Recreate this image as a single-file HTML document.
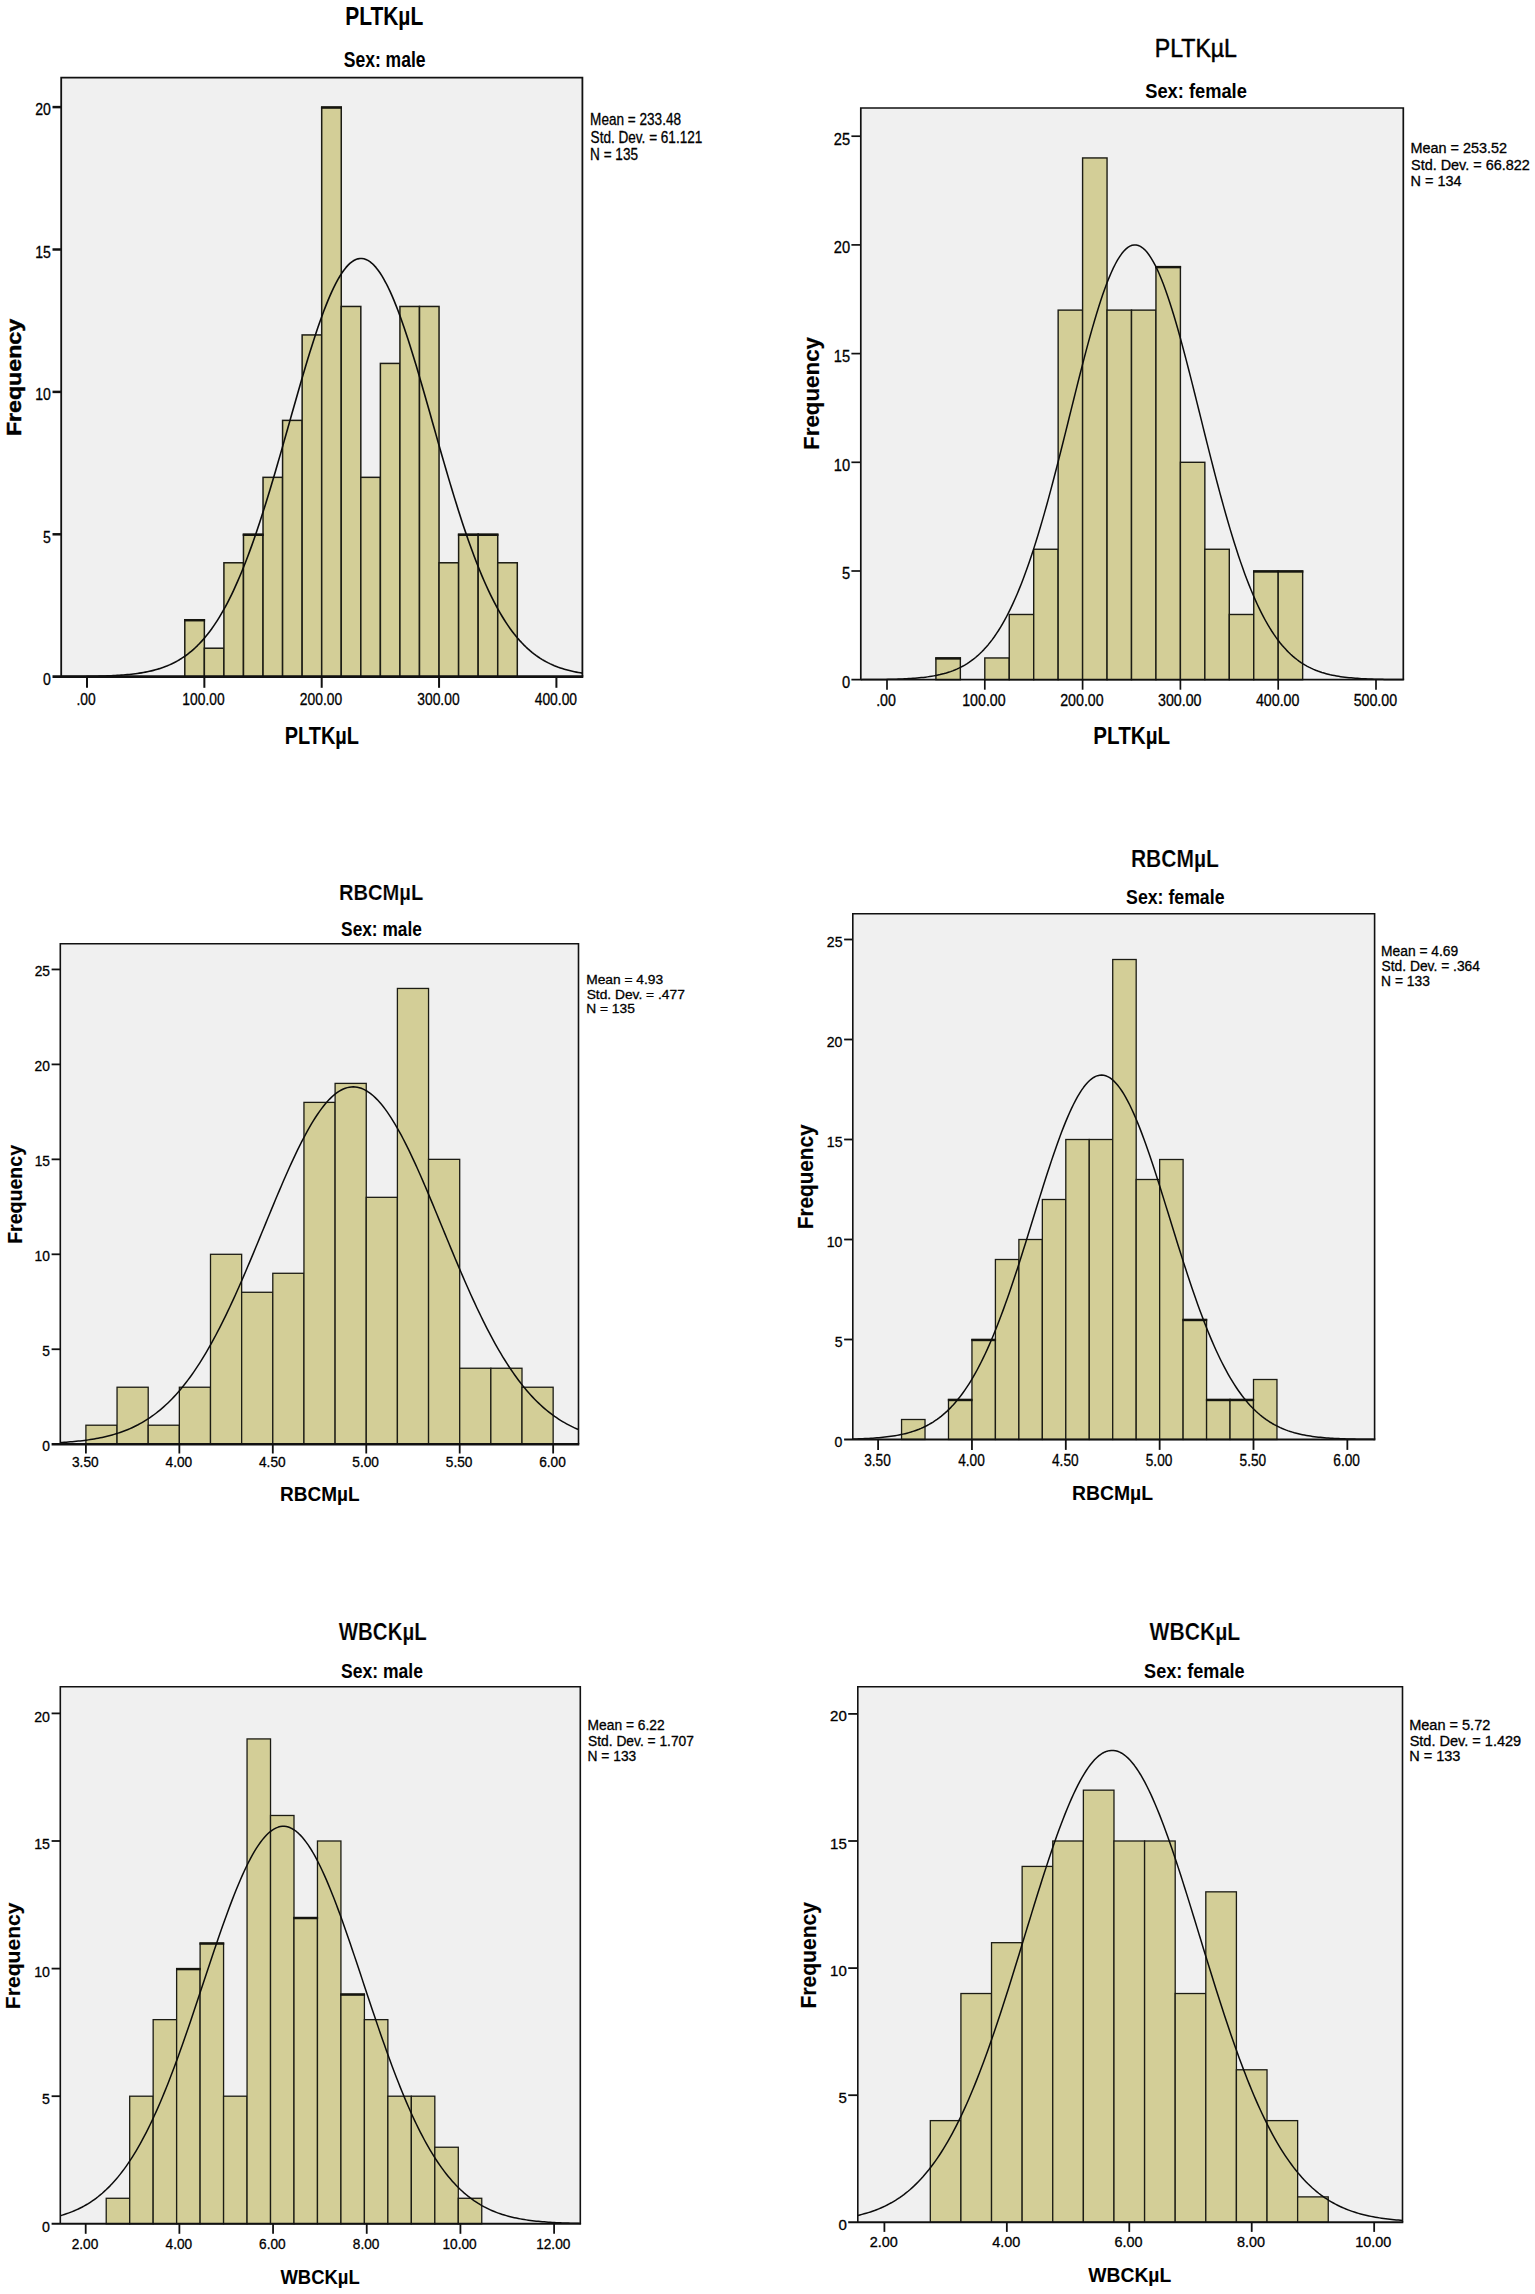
<!DOCTYPE html>
<html lang="en"><head><meta charset="utf-8"><title>Histograms of PLTKµL, RBCMµL and WBCKµL by sex</title>
<style>
html,body{margin:0;padding:0;background:#fff;}
body{width:1535px;height:2294px;overflow:hidden;font-family:"Liberation Sans",sans-serif;}
svg{display:block;}
</style></head><body>
<svg width="1535" height="2294" viewBox="0 0 1535 2294" font-family="'Liberation Sans', sans-serif" fill="#000">
<rect width="1535" height="2294" fill="#fff"/>
<g id="c1">
<rect x="61.20" y="77.60" width="521.20" height="599.10" fill="#F0F0F0"/>
<rect x="184.79" y="619.74" width="19.56" height="56.96" fill="#D3CE97" stroke="#1c1c14" stroke-width="1.5"/>
<rect x="204.35" y="648.22" width="19.56" height="28.48" fill="#D3CE97" stroke="#1c1c14" stroke-width="1.5"/>
<rect x="223.91" y="562.78" width="19.56" height="113.92" fill="#D3CE97" stroke="#1c1c14" stroke-width="1.5"/>
<rect x="243.47" y="534.30" width="19.56" height="142.40" fill="#D3CE97" stroke="#1c1c14" stroke-width="1.5"/>
<rect x="263.03" y="477.34" width="19.56" height="199.36" fill="#D3CE97" stroke="#1c1c14" stroke-width="1.5"/>
<rect x="282.58" y="420.38" width="19.56" height="256.32" fill="#D3CE97" stroke="#1c1c14" stroke-width="1.5"/>
<rect x="302.14" y="334.94" width="19.56" height="341.76" fill="#D3CE97" stroke="#1c1c14" stroke-width="1.5"/>
<rect x="321.70" y="107.10" width="19.56" height="569.60" fill="#D3CE97" stroke="#1c1c14" stroke-width="1.5"/>
<rect x="341.26" y="306.46" width="19.56" height="370.24" fill="#D3CE97" stroke="#1c1c14" stroke-width="1.5"/>
<rect x="360.82" y="477.34" width="19.56" height="199.36" fill="#D3CE97" stroke="#1c1c14" stroke-width="1.5"/>
<rect x="380.38" y="363.42" width="19.56" height="313.28" fill="#D3CE97" stroke="#1c1c14" stroke-width="1.5"/>
<rect x="399.93" y="306.46" width="19.56" height="370.24" fill="#D3CE97" stroke="#1c1c14" stroke-width="1.5"/>
<rect x="419.49" y="306.46" width="19.56" height="370.24" fill="#D3CE97" stroke="#1c1c14" stroke-width="1.5"/>
<rect x="439.05" y="562.78" width="19.56" height="113.92" fill="#D3CE97" stroke="#1c1c14" stroke-width="1.5"/>
<rect x="458.61" y="534.30" width="19.56" height="142.40" fill="#D3CE97" stroke="#1c1c14" stroke-width="1.5"/>
<rect x="478.17" y="534.30" width="19.56" height="142.40" fill="#D3CE97" stroke="#1c1c14" stroke-width="1.5"/>
<rect x="497.73" y="562.78" width="19.56" height="113.92" fill="#D3CE97" stroke="#1c1c14" stroke-width="1.5"/>
<line x1="184.04" y1="620.24" x2="205.10" y2="620.24" stroke="#15150f" stroke-width="2.4"/>
<line x1="242.72" y1="534.80" x2="263.78" y2="534.80" stroke="#15150f" stroke-width="2.4"/>
<line x1="320.95" y1="107.60" x2="342.01" y2="107.60" stroke="#15150f" stroke-width="2.4"/>
<line x1="457.86" y1="534.80" x2="478.92" y2="534.80" stroke="#15150f" stroke-width="2.4"/>
<line x1="477.42" y1="534.80" x2="498.48" y2="534.80" stroke="#15150f" stroke-width="2.4"/>
<polyline points="61.20,676.63 63.20,676.62 65.21,676.62 67.21,676.60 69.22,676.59 71.22,676.58 73.23,676.57 75.23,676.55 77.24,676.53 79.24,676.51 81.25,676.49 83.25,676.47 85.26,676.44 87.26,676.41 89.26,676.38 91.27,676.34 93.27,676.31 95.28,676.26 97.28,676.21 99.29,676.16 101.29,676.10 103.30,676.04 105.30,675.97 107.31,675.90 109.31,675.81 111.32,675.72 113.32,675.62 115.32,675.51 117.33,675.40 119.33,675.27 121.34,675.13 123.34,674.97 125.35,674.80 127.35,674.62 129.36,674.43 131.36,674.21 133.37,673.98 135.37,673.73 137.38,673.46 139.38,673.16 141.38,672.85 143.39,672.50 145.39,672.13 147.40,671.74 149.40,671.31 151.41,670.85 153.41,670.35 155.42,669.82 157.42,669.25 159.43,668.64 161.43,667.98 163.44,667.28 165.44,666.53 167.44,665.73 169.45,664.87 171.45,663.96 173.46,662.99 175.46,661.96 177.47,660.86 179.47,659.69 181.48,658.45 183.48,657.13 185.49,655.74 187.49,654.27 189.50,652.71 191.50,651.06 193.50,649.32 195.51,647.48 197.51,645.55 199.52,643.52 201.52,641.37 203.53,639.12 205.53,636.76 207.54,634.28 209.54,631.69 211.55,628.97 213.55,626.13 215.56,623.16 217.56,620.06 219.56,616.83 221.57,613.46 223.57,609.96 225.58,606.31 227.58,602.53 229.59,598.60 231.59,594.53 233.60,590.31 235.60,585.95 237.61,581.45 239.61,576.79 241.62,572.00 243.62,567.05 245.62,561.97 247.63,556.74 249.63,551.37 251.64,545.86 253.64,540.22 255.65,534.45 257.65,528.55 259.66,522.52 261.66,516.37 263.67,510.11 265.67,503.74 267.68,497.26 269.68,490.69 271.68,484.03 273.69,477.29 275.69,470.47 277.70,463.58 279.70,456.63 281.71,449.64 283.71,442.61 285.72,435.55 287.72,428.47 289.73,421.38 291.73,414.29 293.74,407.22 295.74,400.17 297.74,393.16 299.75,386.20 301.75,379.30 303.76,372.48 305.76,365.74 307.77,359.10 309.77,352.57 311.78,346.16 313.78,339.89 315.79,333.78 317.79,327.82 319.80,322.03 321.80,316.44 323.80,311.04 325.81,305.84 327.81,300.87 329.82,296.13 331.82,291.63 333.83,287.38 335.83,283.39 337.84,279.67 339.84,276.23 341.85,273.08 343.85,270.21 345.86,267.65 347.86,265.39 349.86,263.44 351.87,261.81 353.87,260.50 355.88,259.50 357.88,258.84 359.89,258.49 361.89,258.48 363.90,258.79 365.90,259.42 367.91,260.38 369.91,261.67 371.92,263.27 373.92,265.19 375.92,267.41 377.93,269.95 379.93,272.78 381.94,275.91 383.94,279.32 385.95,283.01 387.95,286.98 389.96,291.20 391.96,295.68 393.97,300.39 395.97,305.34 397.98,310.52 399.98,315.90 401.98,321.47 403.99,327.24 405.99,333.18 408.00,339.28 410.00,345.54 412.01,351.93 414.01,358.45 416.02,365.08 418.02,371.81 420.03,378.62 422.03,385.52 424.04,392.47 426.04,399.48 428.04,406.52 430.05,413.59 432.05,420.68 434.06,427.77 436.06,434.85 438.07,441.91 440.07,448.95 442.08,455.95 444.08,462.90 446.09,469.79 448.09,476.62 450.10,483.37 452.10,490.04 454.10,496.62 456.11,503.10 458.11,509.49 460.12,515.76 462.12,521.92 464.13,527.96 466.13,533.87 468.14,539.66 470.14,545.31 472.15,550.83 474.15,556.22 476.16,561.46 478.16,566.56 480.16,571.52 482.17,576.33 484.17,580.99 486.18,585.52 488.18,589.89 490.19,594.12 492.19,598.21 494.20,602.15 496.20,605.95 498.21,609.60 500.21,613.12 502.22,616.50 504.22,619.75 506.22,622.86 508.23,625.84 510.23,628.70 512.24,631.43 514.24,634.03 516.25,636.52 518.25,638.90 520.26,641.16 522.26,643.31 524.27,645.36 526.27,647.30 528.28,649.14 530.28,650.89 532.28,652.55 534.29,654.12 536.29,655.60 538.30,657.00 540.30,658.32 542.31,659.57 544.31,660.75 546.32,661.85 548.32,662.89 550.33,663.87 552.33,664.79 554.34,665.65 556.34,666.45 558.34,667.21 560.35,667.91 562.35,668.57 564.36,669.19 566.36,669.76 568.37,670.30 570.37,670.80 572.38,671.26 574.38,671.70 576.39,672.10 578.39,672.47 580.40,672.81 582.40,673.13" fill="none" stroke="#0c0c0c" stroke-width="1.6" stroke-linejoin="round"/>
<path d="M61.20,676.70 V77.60 H582.40 V676.70" fill="none" stroke="#111" stroke-width="1.8"/>
<line x1="52.50" y1="676.70" x2="583.30" y2="676.70" stroke="#111" stroke-width="2.8"/>
<text transform="translate(43.02,685.00) scale(0.8431,1)" font-size="16.69" font-weight="normal" stroke="#000" stroke-width="0.3">0</text>
<line x1="52.50" y1="534.30" x2="61.20" y2="534.30" stroke="#111" stroke-width="2.5"/>
<text transform="translate(43.05,542.60) scale(0.8431,1)" font-size="16.69" font-weight="normal" stroke="#000" stroke-width="0.3">5</text>
<line x1="52.50" y1="391.90" x2="61.20" y2="391.90" stroke="#111" stroke-width="2.5"/>
<text transform="translate(35.21,400.20) scale(0.8431,1)" font-size="16.69" font-weight="normal" stroke="#000" stroke-width="0.3">10</text>
<line x1="52.50" y1="249.50" x2="61.20" y2="249.50" stroke="#111" stroke-width="2.5"/>
<text transform="translate(35.24,257.80) scale(0.8431,1)" font-size="16.69" font-weight="normal" stroke="#000" stroke-width="0.3">15</text>
<line x1="52.50" y1="107.10" x2="61.20" y2="107.10" stroke="#111" stroke-width="2.5"/>
<text transform="translate(35.21,115.40) scale(0.8431,1)" font-size="16.69" font-weight="normal" stroke="#000" stroke-width="0.3">20</text>
<line x1="87.00" y1="676.70" x2="87.00" y2="687.80" stroke="#111" stroke-width="2.0"/>
<text transform="translate(76.41,704.80) scale(0.8259,1)" font-size="16.77" font-weight="normal" stroke="#000" stroke-width="0.3">.00</text>
<line x1="204.35" y1="676.70" x2="204.35" y2="687.80" stroke="#111" stroke-width="2.0"/>
<text transform="translate(182.31,704.80) scale(0.8259,1)" font-size="16.77" font-weight="normal" stroke="#000" stroke-width="0.3">100.00</text>
<line x1="321.70" y1="676.70" x2="321.70" y2="687.80" stroke="#111" stroke-width="2.0"/>
<text transform="translate(299.83,704.80) scale(0.8259,1)" font-size="16.77" font-weight="normal" stroke="#000" stroke-width="0.3">200.00</text>
<line x1="439.05" y1="676.70" x2="439.05" y2="687.80" stroke="#111" stroke-width="2.0"/>
<text transform="translate(417.27,704.80) scale(0.8259,1)" font-size="16.77" font-weight="normal" stroke="#000" stroke-width="0.3">300.00</text>
<line x1="556.40" y1="676.70" x2="556.40" y2="687.80" stroke="#111" stroke-width="2.0"/>
<text transform="translate(534.72,704.80) scale(0.8259,1)" font-size="16.77" font-weight="normal" stroke="#000" stroke-width="0.3">400.00</text>
<text transform="translate(345.14,25.20) scale(0.8018,1)" font-size="26.18" font-weight="bold">PLTKµL</text>
<text transform="translate(343.72,66.80) scale(0.8076,1)" font-size="21.71" font-weight="bold">Sex: male</text>
<text transform="translate(284.70,743.90) scale(0.8211,1)" font-size="24.29" font-weight="bold">PLTKµL</text>
<text transform="translate(21.30,436.11) rotate(-90) scale(1.1311,1)" font-size="20.51" font-weight="bold" stroke="#000" stroke-width="0.45">Frequency</text>
<text transform="translate(590.11,125.20) scale(0.8623,1)" font-size="15.75" font-weight="normal" stroke="#000" stroke-width="0.3">Mean = 233.48</text>
<text transform="translate(590.59,142.70) scale(0.8623,1)" font-size="15.75" font-weight="normal" stroke="#000" stroke-width="0.3">Std. Dev. = 61.121</text>
<text transform="translate(590.11,160.20) scale(0.8623,1)" font-size="15.75" font-weight="normal" stroke="#000" stroke-width="0.3">N = 135</text>
</g>
<g id="c2">
<rect x="860.80" y="108.00" width="542.50" height="571.70" fill="#F0F0F0"/>
<rect x="935.90" y="657.96" width="24.45" height="21.74" fill="#D3CE97" stroke="#1c1c14" stroke-width="1.4"/>
<rect x="984.80" y="657.96" width="24.45" height="21.74" fill="#D3CE97" stroke="#1c1c14" stroke-width="1.4"/>
<rect x="1009.25" y="614.48" width="24.45" height="65.22" fill="#D3CE97" stroke="#1c1c14" stroke-width="1.4"/>
<rect x="1033.70" y="549.26" width="24.45" height="130.44" fill="#D3CE97" stroke="#1c1c14" stroke-width="1.4"/>
<rect x="1058.15" y="310.12" width="24.45" height="369.58" fill="#D3CE97" stroke="#1c1c14" stroke-width="1.4"/>
<rect x="1082.60" y="157.94" width="24.45" height="521.76" fill="#D3CE97" stroke="#1c1c14" stroke-width="1.4"/>
<rect x="1107.05" y="310.12" width="24.45" height="369.58" fill="#D3CE97" stroke="#1c1c14" stroke-width="1.4"/>
<rect x="1131.50" y="310.12" width="24.45" height="369.58" fill="#D3CE97" stroke="#1c1c14" stroke-width="1.4"/>
<rect x="1155.95" y="266.64" width="24.45" height="413.06" fill="#D3CE97" stroke="#1c1c14" stroke-width="1.4"/>
<rect x="1180.40" y="462.30" width="24.45" height="217.40" fill="#D3CE97" stroke="#1c1c14" stroke-width="1.4"/>
<rect x="1204.85" y="549.26" width="24.45" height="130.44" fill="#D3CE97" stroke="#1c1c14" stroke-width="1.4"/>
<rect x="1229.30" y="614.48" width="24.45" height="65.22" fill="#D3CE97" stroke="#1c1c14" stroke-width="1.4"/>
<rect x="1253.75" y="571.00" width="24.45" height="108.70" fill="#D3CE97" stroke="#1c1c14" stroke-width="1.4"/>
<rect x="1278.20" y="571.00" width="24.45" height="108.70" fill="#D3CE97" stroke="#1c1c14" stroke-width="1.4"/>
<line x1="935.20" y1="658.46" x2="961.05" y2="658.46" stroke="#15150f" stroke-width="2.4"/>
<line x1="1155.25" y1="267.14" x2="1181.10" y2="267.14" stroke="#15150f" stroke-width="2.4"/>
<line x1="1253.05" y1="571.50" x2="1278.90" y2="571.50" stroke="#15150f" stroke-width="2.4"/>
<line x1="1277.50" y1="571.50" x2="1303.35" y2="571.50" stroke="#15150f" stroke-width="2.4"/>
<polyline points="860.80,679.63 862.89,679.62 864.97,679.61 867.06,679.60 869.15,679.59 871.23,679.57 873.32,679.56 875.41,679.54 877.49,679.51 879.58,679.49 881.67,679.46 883.75,679.43 885.84,679.40 887.92,679.36 890.01,679.31 892.10,679.26 894.18,679.21 896.27,679.15 898.36,679.08 900.44,679.00 902.53,678.92 904.62,678.83 906.70,678.72 908.79,678.61 910.88,678.48 912.96,678.34 915.05,678.19 917.14,678.02 919.22,677.83 921.31,677.62 923.40,677.39 925.48,677.14 927.57,676.87 929.66,676.57 931.74,676.24 933.83,675.88 935.92,675.49 938.00,675.06 940.09,674.60 942.17,674.09 944.26,673.54 946.35,672.94 948.43,672.29 950.52,671.59 952.61,670.83 954.69,670.01 956.78,669.12 958.87,668.17 960.95,667.14 963.04,666.03 965.13,664.84 967.21,663.56 969.30,662.19 971.39,660.72 973.47,659.16 975.56,657.48 977.65,655.69 979.73,653.79 981.82,651.76 983.91,649.61 985.99,647.32 988.08,644.89 990.17,642.32 992.25,639.61 994.34,636.73 996.42,633.70 998.51,630.51 1000.60,627.14 1002.68,623.60 1004.77,619.89 1006.86,616.00 1008.94,611.92 1011.03,607.65 1013.12,603.19 1015.20,598.54 1017.29,593.70 1019.38,588.66 1021.46,583.42 1023.55,577.98 1025.64,572.34 1027.72,566.51 1029.81,560.49 1031.90,554.27 1033.98,547.86 1036.07,541.26 1038.16,534.49 1040.24,527.53 1042.33,520.41 1044.42,513.12 1046.50,505.68 1048.59,498.09 1050.67,490.36 1052.76,482.50 1054.85,474.52 1056.93,466.45 1059.02,458.27 1061.11,450.02 1063.19,441.71 1065.28,433.34 1067.37,424.95 1069.45,416.53 1071.54,408.11 1073.63,399.71 1075.71,391.34 1077.80,383.03 1079.89,374.78 1081.97,366.63 1084.06,358.59 1086.15,350.67 1088.23,342.91 1090.32,335.31 1092.41,327.90 1094.49,320.69 1096.58,313.71 1098.67,306.98 1100.75,300.51 1102.84,294.32 1104.92,288.43 1107.01,282.85 1109.10,277.60 1111.18,272.70 1113.27,268.16 1115.36,263.99 1117.44,260.20 1119.53,256.82 1121.62,253.84 1123.70,251.28 1125.79,249.14 1127.88,247.43 1129.96,246.15 1132.05,245.32 1134.14,244.93 1136.22,244.98 1138.31,245.47 1140.40,246.41 1142.48,247.78 1144.57,249.59 1146.66,251.82 1148.74,254.48 1150.83,257.55 1152.92,261.03 1155.00,264.90 1157.09,269.16 1159.17,273.78 1161.26,278.76 1163.35,284.09 1165.43,289.74 1167.52,295.70 1169.61,301.96 1171.69,308.49 1173.78,315.28 1175.87,322.31 1177.95,329.57 1180.04,337.02 1182.13,344.66 1184.21,352.46 1186.30,360.41 1188.39,368.48 1190.47,376.65 1192.56,384.91 1194.65,393.24 1196.73,401.62 1198.82,410.02 1200.91,418.44 1202.99,426.86 1205.08,435.25 1207.17,443.60 1209.25,451.91 1211.34,460.14 1213.42,468.29 1215.51,476.35 1217.60,484.30 1219.68,492.13 1221.77,499.82 1223.86,507.38 1225.94,514.79 1228.03,522.04 1230.12,529.13 1232.20,536.04 1234.29,542.78 1236.38,549.33 1238.46,555.70 1240.55,561.87 1242.64,567.86 1244.72,573.64 1246.81,579.23 1248.90,584.62 1250.98,589.82 1253.07,594.82 1255.16,599.62 1257.24,604.22 1259.33,608.64 1261.42,612.86 1263.50,616.90 1265.59,620.75 1267.67,624.42 1269.76,627.92 1271.85,631.25 1273.93,634.40 1276.02,637.40 1278.11,640.24 1280.19,642.92 1282.28,645.46 1284.37,647.85 1286.45,650.11 1288.54,652.24 1290.63,654.23 1292.71,656.11 1294.80,657.87 1296.89,659.52 1298.97,661.07 1301.06,662.51 1303.15,663.86 1305.23,665.12 1307.32,666.29 1309.41,667.38 1311.49,668.39 1313.58,669.33 1315.67,670.20 1317.75,671.01 1319.84,671.75 1321.92,672.44 1324.01,673.08 1326.10,673.67 1328.18,674.21 1330.27,674.71 1332.36,675.16 1334.44,675.58 1336.53,675.97 1338.62,676.32 1340.70,676.64 1342.79,676.93 1344.88,677.20 1346.96,677.45 1349.05,677.67 1351.14,677.87 1353.22,678.06 1355.31,678.22 1357.40,678.37 1359.48,678.51 1361.57,678.64 1363.66,678.75 1365.74,678.85 1367.83,678.94 1369.92,679.02 1372.00,679.10 1374.09,679.16 1376.17,679.22 1378.26,679.28 1380.35,679.32 1382.43,679.37 1384.52,679.40 1386.61,679.44 1388.69,679.47 1390.78,679.50 1392.87,679.52 1394.95,679.54 1397.04,679.56 1399.13,679.58 1401.21,679.59 1403.30,679.61" fill="none" stroke="#0c0c0c" stroke-width="1.5" stroke-linejoin="round"/>
<path d="M860.80,679.70 V108.00 H1403.30 V679.70" fill="none" stroke="#111" stroke-width="1.7"/>
<line x1="851.40" y1="679.70" x2="1404.15" y2="679.70" stroke="#111" stroke-width="1.8"/>
<text transform="translate(841.91,688.10) scale(0.9253,1)" font-size="15.85" font-weight="normal" stroke="#000" stroke-width="0.3">0</text>
<line x1="851.40" y1="571.00" x2="860.80" y2="571.00" stroke="#111" stroke-width="1.7"/>
<text transform="translate(841.94,579.40) scale(0.9253,1)" font-size="15.85" font-weight="normal" stroke="#000" stroke-width="0.3">5</text>
<line x1="851.40" y1="462.30" x2="860.80" y2="462.30" stroke="#111" stroke-width="1.7"/>
<text transform="translate(833.77,470.70) scale(0.9253,1)" font-size="15.85" font-weight="normal" stroke="#000" stroke-width="0.3">10</text>
<line x1="851.40" y1="353.60" x2="860.80" y2="353.60" stroke="#111" stroke-width="1.7"/>
<text transform="translate(833.80,362.00) scale(0.9253,1)" font-size="15.85" font-weight="normal" stroke="#000" stroke-width="0.3">15</text>
<line x1="851.40" y1="244.90" x2="860.80" y2="244.90" stroke="#111" stroke-width="1.7"/>
<text transform="translate(833.77,253.30) scale(0.9253,1)" font-size="15.85" font-weight="normal" stroke="#000" stroke-width="0.3">20</text>
<line x1="851.40" y1="136.20" x2="860.80" y2="136.20" stroke="#111" stroke-width="1.7"/>
<text transform="translate(833.80,144.60) scale(0.9253,1)" font-size="15.85" font-weight="normal" stroke="#000" stroke-width="0.3">25</text>
<line x1="887.00" y1="679.70" x2="887.00" y2="689.70" stroke="#111" stroke-width="1.7"/>
<text transform="translate(876.15,705.90) scale(0.9014,1)" font-size="15.77" font-weight="normal" stroke="#000" stroke-width="0.3">.00</text>
<line x1="984.80" y1="679.70" x2="984.80" y2="689.70" stroke="#111" stroke-width="1.7"/>
<text transform="translate(962.20,705.90) scale(0.9014,1)" font-size="15.77" font-weight="normal" stroke="#000" stroke-width="0.3">100.00</text>
<line x1="1082.60" y1="679.70" x2="1082.60" y2="689.70" stroke="#111" stroke-width="1.7"/>
<text transform="translate(1060.18,705.90) scale(0.9014,1)" font-size="15.77" font-weight="normal" stroke="#000" stroke-width="0.3">200.00</text>
<line x1="1180.40" y1="679.70" x2="1180.40" y2="689.70" stroke="#111" stroke-width="1.7"/>
<text transform="translate(1158.07,705.90) scale(0.9014,1)" font-size="15.77" font-weight="normal" stroke="#000" stroke-width="0.3">300.00</text>
<line x1="1278.20" y1="679.70" x2="1278.20" y2="689.70" stroke="#111" stroke-width="1.7"/>
<text transform="translate(1255.97,705.90) scale(0.9014,1)" font-size="15.77" font-weight="normal" stroke="#000" stroke-width="0.3">400.00</text>
<line x1="1376.00" y1="679.70" x2="1376.00" y2="689.70" stroke="#111" stroke-width="1.7"/>
<text transform="translate(1353.65,705.90) scale(0.9014,1)" font-size="15.77" font-weight="normal" stroke="#000" stroke-width="0.3">500.00</text>
<text transform="translate(1154.75,57.00) scale(0.9082,1)" font-size="25.45" font-weight="normal" stroke="#000" stroke-width="0.5">PLTKµL</text>
<text transform="translate(1145.20,97.70) scale(0.9150,1)" font-size="20.00" font-weight="bold">Sex: female</text>
<text transform="translate(1093.36,744.30) scale(0.8922,1)" font-size="23.13" font-weight="bold">PLTKµL</text>
<text transform="translate(819.00,449.95) rotate(-90) scale(0.9916,1)" font-size="22.55" font-weight="bold" stroke="#000" stroke-width="0.15">Frequency</text>
<text transform="translate(1410.55,153.00) scale(1.0139,1)" font-size="14.23" font-weight="normal" stroke="#000" stroke-width="0.3">Mean = 253.52</text>
<text transform="translate(1411.05,169.90) scale(1.0139,1)" font-size="14.23" font-weight="normal" stroke="#000" stroke-width="0.3">Std. Dev. = 66.822</text>
<text transform="translate(1410.55,186.20) scale(1.0139,1)" font-size="14.23" font-weight="normal" stroke="#000" stroke-width="0.3">N = 134</text>
</g>
<g id="c3">
<rect x="60.30" y="943.80" width="518.20" height="500.40" fill="#F0F0F0"/>
<rect x="85.90" y="1425.21" width="31.15" height="18.99" fill="#D3CE97" stroke="#1c1c14" stroke-width="1.3"/>
<rect x="117.05" y="1387.23" width="31.15" height="56.97" fill="#D3CE97" stroke="#1c1c14" stroke-width="1.3"/>
<rect x="148.20" y="1425.21" width="31.15" height="18.99" fill="#D3CE97" stroke="#1c1c14" stroke-width="1.3"/>
<rect x="179.35" y="1387.23" width="31.15" height="56.97" fill="#D3CE97" stroke="#1c1c14" stroke-width="1.3"/>
<rect x="210.50" y="1254.30" width="31.15" height="189.90" fill="#D3CE97" stroke="#1c1c14" stroke-width="1.3"/>
<rect x="241.65" y="1292.28" width="31.15" height="151.92" fill="#D3CE97" stroke="#1c1c14" stroke-width="1.3"/>
<rect x="272.80" y="1273.29" width="31.15" height="170.91" fill="#D3CE97" stroke="#1c1c14" stroke-width="1.3"/>
<rect x="303.95" y="1102.38" width="31.15" height="341.82" fill="#D3CE97" stroke="#1c1c14" stroke-width="1.3"/>
<rect x="335.10" y="1083.39" width="31.15" height="360.81" fill="#D3CE97" stroke="#1c1c14" stroke-width="1.3"/>
<rect x="366.25" y="1197.33" width="31.15" height="246.87" fill="#D3CE97" stroke="#1c1c14" stroke-width="1.3"/>
<rect x="397.40" y="988.44" width="31.15" height="455.76" fill="#D3CE97" stroke="#1c1c14" stroke-width="1.3"/>
<rect x="428.55" y="1159.35" width="31.15" height="284.85" fill="#D3CE97" stroke="#1c1c14" stroke-width="1.3"/>
<rect x="459.70" y="1368.24" width="31.15" height="75.96" fill="#D3CE97" stroke="#1c1c14" stroke-width="1.3"/>
<rect x="490.85" y="1368.24" width="31.15" height="75.96" fill="#D3CE97" stroke="#1c1c14" stroke-width="1.3"/>
<rect x="522.00" y="1387.23" width="31.15" height="56.97" fill="#D3CE97" stroke="#1c1c14" stroke-width="1.3"/>
<polyline points="60.30,1442.58 62.29,1442.46 64.29,1442.32 66.28,1442.18 68.27,1442.03 70.27,1441.87 72.26,1441.70 74.25,1441.52 76.24,1441.33 78.24,1441.12 80.23,1440.91 82.22,1440.67 84.22,1440.43 86.21,1440.16 88.20,1439.88 90.20,1439.59 92.19,1439.28 94.18,1438.94 96.18,1438.59 98.17,1438.22 100.16,1437.83 102.15,1437.41 104.15,1436.97 106.14,1436.51 108.13,1436.02 110.13,1435.50 112.12,1434.96 114.11,1434.39 116.11,1433.78 118.10,1433.15 120.09,1432.48 122.09,1431.78 124.08,1431.04 126.07,1430.27 128.06,1429.45 130.06,1428.60 132.05,1427.71 134.04,1426.77 136.04,1425.79 138.03,1424.77 140.02,1423.69 142.02,1422.57 144.01,1421.40 146.00,1420.18 148.00,1418.91 149.99,1417.58 151.98,1416.19 153.97,1414.75 155.97,1413.25 157.96,1411.69 159.95,1410.07 161.95,1408.38 163.94,1406.63 165.93,1404.82 167.93,1402.93 169.92,1400.98 171.91,1398.96 173.91,1396.87 175.90,1394.71 177.89,1392.47 179.88,1390.16 181.88,1387.77 183.87,1385.31 185.86,1382.77 187.86,1380.16 189.85,1377.46 191.84,1374.69 193.84,1371.84 195.83,1368.91 197.82,1365.90 199.82,1362.81 201.81,1359.64 203.80,1356.39 205.79,1353.06 207.79,1349.65 209.78,1346.16 211.77,1342.60 213.77,1338.96 215.76,1335.24 217.75,1331.45 219.75,1327.59 221.74,1323.65 223.73,1319.64 225.73,1315.56 227.72,1311.42 229.71,1307.21 231.70,1302.94 233.70,1298.60 235.69,1294.21 237.68,1289.77 239.68,1285.27 241.67,1280.72 243.66,1276.13 245.66,1271.49 247.65,1266.82 249.64,1262.11 251.64,1257.37 253.63,1252.60 255.62,1247.80 257.61,1242.99 259.61,1238.16 261.60,1233.32 263.59,1228.48 265.59,1223.63 267.58,1218.79 269.57,1213.96 271.57,1209.14 273.56,1204.34 275.55,1199.57 277.55,1194.82 279.54,1190.11 281.53,1185.44 283.52,1180.82 285.52,1176.24 287.51,1171.73 289.50,1167.27 291.50,1162.89 293.49,1158.57 295.48,1154.34 297.48,1150.19 299.47,1146.13 301.46,1142.16 303.46,1138.30 305.45,1134.54 307.44,1130.89 309.43,1127.35 311.43,1123.94 313.42,1120.65 315.41,1117.49 317.41,1114.47 319.40,1111.58 321.39,1108.84 323.39,1106.24 325.38,1103.79 327.37,1101.49 329.37,1099.36 331.36,1097.38 333.35,1095.56 335.34,1093.92 337.34,1092.43 339.33,1091.12 341.32,1089.98 343.32,1089.02 345.31,1088.23 347.30,1087.62 349.30,1087.18 351.29,1086.92 353.28,1086.85 355.28,1086.95 357.27,1087.22 359.26,1087.68 361.25,1088.31 363.25,1089.12 365.24,1090.11 367.23,1091.27 369.23,1092.60 371.22,1094.10 373.21,1095.77 375.21,1097.60 377.20,1099.60 379.19,1101.75 381.19,1104.07 383.18,1106.53 385.17,1109.15 387.16,1111.91 389.16,1114.81 391.15,1117.85 393.14,1121.03 395.14,1124.33 397.13,1127.76 399.12,1131.31 401.12,1134.97 403.11,1138.74 405.10,1142.62 407.10,1146.59 409.09,1150.66 411.08,1154.82 413.07,1159.07 415.07,1163.39 417.06,1167.78 419.05,1172.25 421.05,1176.77 423.04,1181.35 425.03,1185.98 427.03,1190.65 429.02,1195.37 431.01,1200.12 433.01,1204.90 435.00,1209.70 436.99,1214.52 438.98,1219.35 440.98,1224.19 442.97,1229.04 444.96,1233.88 446.96,1238.72 448.95,1243.55 450.94,1248.36 452.94,1253.15 454.93,1257.92 456.92,1262.66 458.92,1267.36 460.91,1272.03 462.90,1276.66 464.89,1281.25 466.89,1285.79 468.88,1290.29 470.87,1294.73 472.87,1299.11 474.86,1303.43 476.85,1307.70 478.85,1311.90 480.84,1316.04 482.83,1320.11 484.83,1324.11 486.82,1328.04 488.81,1331.89 490.80,1335.68 492.80,1339.38 494.79,1343.02 496.78,1346.57 498.78,1350.05 500.77,1353.45 502.76,1356.77 504.76,1360.01 506.75,1363.17 508.74,1366.25 510.74,1369.25 512.73,1372.17 514.72,1375.01 516.71,1377.78 518.71,1380.46 520.70,1383.07 522.69,1385.60 524.69,1388.05 526.68,1390.43 528.67,1392.73 530.67,1394.96 532.66,1397.12 534.65,1399.20 536.65,1401.21 538.64,1403.15 540.63,1405.03 542.62,1406.84 544.62,1408.58 546.61,1410.26 548.60,1411.87 550.60,1413.43 552.59,1414.92 554.58,1416.36 556.58,1417.73 558.57,1419.06 560.56,1420.33 562.56,1421.54 564.55,1422.71 566.54,1423.82 568.53,1424.89 570.53,1425.91 572.52,1426.88 574.51,1427.81 576.51,1428.70 578.50,1429.55" fill="none" stroke="#0c0c0c" stroke-width="1.5" stroke-linejoin="round"/>
<path d="M60.30,1444.20 V943.80 H578.50 V1444.20" fill="none" stroke="#111" stroke-width="1.6"/>
<line x1="51.60" y1="1444.20" x2="579.30" y2="1444.20" stroke="#111" stroke-width="2.4"/>
<text transform="translate(42.26,1451.15) scale(0.9627,1)" font-size="14.32" font-weight="normal" stroke="#000" stroke-width="0.3">0</text>
<line x1="51.60" y1="1349.25" x2="60.30" y2="1349.25" stroke="#111" stroke-width="1.8"/>
<text transform="translate(42.30,1356.20) scale(0.9627,1)" font-size="14.32" font-weight="normal" stroke="#000" stroke-width="0.3">5</text>
<line x1="51.60" y1="1254.30" x2="60.30" y2="1254.30" stroke="#111" stroke-width="1.8"/>
<text transform="translate(34.61,1261.25) scale(0.9627,1)" font-size="14.32" font-weight="normal" stroke="#000" stroke-width="0.3">10</text>
<line x1="51.60" y1="1159.35" x2="60.30" y2="1159.35" stroke="#111" stroke-width="1.8"/>
<text transform="translate(34.64,1166.30) scale(0.9627,1)" font-size="14.32" font-weight="normal" stroke="#000" stroke-width="0.3">15</text>
<line x1="51.60" y1="1064.40" x2="60.30" y2="1064.40" stroke="#111" stroke-width="1.8"/>
<text transform="translate(34.61,1071.35) scale(0.9627,1)" font-size="14.32" font-weight="normal" stroke="#000" stroke-width="0.3">20</text>
<line x1="51.60" y1="969.45" x2="60.30" y2="969.45" stroke="#111" stroke-width="1.8"/>
<text transform="translate(34.64,976.40) scale(0.9627,1)" font-size="14.32" font-weight="normal" stroke="#000" stroke-width="0.3">25</text>
<line x1="85.90" y1="1444.20" x2="85.90" y2="1453.50" stroke="#111" stroke-width="1.8"/>
<text transform="translate(71.99,1467.00) scale(0.9744,1)" font-size="14.05" font-weight="normal" stroke="#000" stroke-width="0.3">3.50</text>
<line x1="179.35" y1="1444.20" x2="179.35" y2="1453.50" stroke="#111" stroke-width="1.8"/>
<text transform="translate(165.54,1467.00) scale(0.9744,1)" font-size="14.05" font-weight="normal" stroke="#000" stroke-width="0.3">4.00</text>
<line x1="272.80" y1="1444.20" x2="272.80" y2="1453.50" stroke="#111" stroke-width="1.8"/>
<text transform="translate(258.99,1467.00) scale(0.9744,1)" font-size="14.05" font-weight="normal" stroke="#000" stroke-width="0.3">4.50</text>
<line x1="366.25" y1="1444.20" x2="366.25" y2="1453.50" stroke="#111" stroke-width="1.8"/>
<text transform="translate(352.32,1467.00) scale(0.9744,1)" font-size="14.05" font-weight="normal" stroke="#000" stroke-width="0.3">5.00</text>
<line x1="459.70" y1="1444.20" x2="459.70" y2="1453.50" stroke="#111" stroke-width="1.8"/>
<text transform="translate(445.77,1467.00) scale(0.9744,1)" font-size="14.05" font-weight="normal" stroke="#000" stroke-width="0.3">5.50</text>
<line x1="553.15" y1="1444.20" x2="553.15" y2="1453.50" stroke="#111" stroke-width="1.8"/>
<text transform="translate(539.15,1467.00) scale(0.9744,1)" font-size="14.05" font-weight="normal" stroke="#000" stroke-width="0.3">6.00</text>
<text transform="translate(338.89,900.10) scale(0.9118,1)" font-size="22.11" font-weight="bold" stroke="#fff" stroke-width="0.18">RBCMµL</text>
<text transform="translate(341.12,936.20) scale(0.8838,1)" font-size="19.57" font-weight="bold">Sex: male</text>
<text transform="translate(280.06,1500.70) scale(0.9552,1)" font-size="19.93" font-weight="bold">RBCMµL</text>
<text transform="translate(21.60,1243.87) rotate(-90) scale(0.9542,1)" font-size="20.51" font-weight="bold" stroke="#000" stroke-width="0.15">Frequency</text>
<text transform="translate(586.20,984.10) scale(1.0241,1)" font-size="13.46" font-weight="normal" stroke="#000" stroke-width="0.3">Mean = 4.93</text>
<text transform="translate(586.68,998.70) scale(1.0241,1)" font-size="13.46" font-weight="normal" stroke="#000" stroke-width="0.3">Std. Dev. = .477</text>
<text transform="translate(586.20,1012.70) scale(1.0241,1)" font-size="13.46" font-weight="normal" stroke="#000" stroke-width="0.3">N = 135</text>
</g>
<g id="c4">
<rect x="852.80" y="913.70" width="521.80" height="525.80" fill="#F0F0F0"/>
<rect x="901.56" y="1419.50" width="23.46" height="20.00" fill="#D3CE97" stroke="#1c1c14" stroke-width="1.3"/>
<rect x="948.49" y="1399.50" width="23.46" height="40.00" fill="#D3CE97" stroke="#1c1c14" stroke-width="1.3"/>
<rect x="971.95" y="1339.50" width="23.46" height="100.00" fill="#D3CE97" stroke="#1c1c14" stroke-width="1.3"/>
<rect x="995.41" y="1259.50" width="23.46" height="180.00" fill="#D3CE97" stroke="#1c1c14" stroke-width="1.3"/>
<rect x="1018.88" y="1239.50" width="23.46" height="200.00" fill="#D3CE97" stroke="#1c1c14" stroke-width="1.3"/>
<rect x="1042.34" y="1199.50" width="23.46" height="240.00" fill="#D3CE97" stroke="#1c1c14" stroke-width="1.3"/>
<rect x="1065.80" y="1139.50" width="23.46" height="300.00" fill="#D3CE97" stroke="#1c1c14" stroke-width="1.3"/>
<rect x="1089.26" y="1139.50" width="23.46" height="300.00" fill="#D3CE97" stroke="#1c1c14" stroke-width="1.3"/>
<rect x="1112.72" y="959.50" width="23.46" height="480.00" fill="#D3CE97" stroke="#1c1c14" stroke-width="1.3"/>
<rect x="1136.19" y="1179.50" width="23.46" height="260.00" fill="#D3CE97" stroke="#1c1c14" stroke-width="1.3"/>
<rect x="1159.65" y="1159.50" width="23.46" height="280.00" fill="#D3CE97" stroke="#1c1c14" stroke-width="1.3"/>
<rect x="1183.11" y="1319.50" width="23.46" height="120.00" fill="#D3CE97" stroke="#1c1c14" stroke-width="1.3"/>
<rect x="1206.58" y="1399.50" width="23.46" height="40.00" fill="#D3CE97" stroke="#1c1c14" stroke-width="1.3"/>
<rect x="1230.04" y="1399.50" width="23.46" height="40.00" fill="#D3CE97" stroke="#1c1c14" stroke-width="1.3"/>
<rect x="1253.50" y="1379.50" width="23.46" height="60.00" fill="#D3CE97" stroke="#1c1c14" stroke-width="1.3"/>
<line x1="947.84" y1="1400.00" x2="972.60" y2="1400.00" stroke="#15150f" stroke-width="2.4"/>
<line x1="971.30" y1="1340.00" x2="996.06" y2="1340.00" stroke="#15150f" stroke-width="2.4"/>
<line x1="1182.46" y1="1320.00" x2="1207.23" y2="1320.00" stroke="#15150f" stroke-width="2.4"/>
<line x1="1205.92" y1="1400.00" x2="1230.69" y2="1400.00" stroke="#15150f" stroke-width="2.4"/>
<line x1="1229.39" y1="1400.00" x2="1254.15" y2="1400.00" stroke="#15150f" stroke-width="2.4"/>
<polyline points="852.80,1439.02 854.81,1438.96 856.81,1438.90 858.82,1438.83 860.83,1438.76 862.83,1438.68 864.84,1438.59 866.85,1438.50 868.86,1438.39 870.86,1438.28 872.87,1438.15 874.88,1438.01 876.88,1437.86 878.89,1437.69 880.90,1437.51 882.90,1437.31 884.91,1437.10 886.92,1436.87 888.92,1436.61 890.93,1436.34 892.94,1436.04 894.95,1435.72 896.95,1435.37 898.96,1434.99 900.97,1434.58 902.97,1434.14 904.98,1433.67 906.99,1433.16 908.99,1432.61 911.00,1432.02 913.01,1431.38 915.01,1430.70 917.02,1429.97 919.03,1429.19 921.04,1428.35 923.04,1427.46 925.05,1426.50 927.06,1425.48 929.06,1424.40 931.07,1423.24 933.08,1422.02 935.08,1420.71 937.09,1419.33 939.10,1417.86 941.10,1416.31 943.11,1414.66 945.12,1412.92 947.13,1411.09 949.13,1409.15 951.14,1407.11 953.15,1404.96 955.15,1402.70 957.16,1400.33 959.17,1397.84 961.17,1395.23 963.18,1392.50 965.19,1389.64 967.19,1386.66 969.20,1383.54 971.21,1380.29 973.22,1376.91 975.22,1373.39 977.23,1369.74 979.24,1365.94 981.24,1362.00 983.25,1357.93 985.26,1353.71 987.26,1349.36 989.27,1344.86 991.28,1340.23 993.28,1335.46 995.29,1330.55 997.30,1325.51 999.31,1320.34 1001.31,1315.04 1003.32,1309.62 1005.33,1304.09 1007.33,1298.43 1009.34,1292.67 1011.35,1286.80 1013.35,1280.84 1015.36,1274.78 1017.37,1268.65 1019.37,1262.43 1021.38,1256.15 1023.39,1249.81 1025.40,1243.42 1027.40,1236.99 1029.41,1230.53 1031.42,1224.05 1033.42,1217.55 1035.43,1211.06 1037.44,1204.59 1039.44,1198.14 1041.45,1191.72 1043.46,1185.35 1045.46,1179.05 1047.47,1172.82 1049.48,1166.67 1051.49,1160.63 1053.49,1154.69 1055.50,1148.88 1057.51,1143.21 1059.51,1137.69 1061.52,1132.33 1063.53,1127.14 1065.53,1122.14 1067.54,1117.34 1069.55,1112.75 1071.55,1108.38 1073.56,1104.24 1075.57,1100.34 1077.58,1096.69 1079.58,1093.30 1081.59,1090.18 1083.60,1087.33 1085.60,1084.77 1087.61,1082.50 1089.62,1080.52 1091.62,1078.84 1093.63,1077.47 1095.64,1076.40 1097.64,1075.65 1099.65,1075.21 1101.66,1075.08 1103.67,1075.27 1105.67,1075.77 1107.68,1076.59 1109.69,1077.71 1111.69,1079.14 1113.70,1080.88 1115.71,1082.92 1117.71,1085.25 1119.72,1087.86 1121.73,1090.76 1123.73,1093.94 1125.74,1097.38 1127.75,1101.08 1129.76,1105.02 1131.76,1109.21 1133.77,1113.63 1135.78,1118.26 1137.78,1123.10 1139.79,1128.14 1141.80,1133.36 1143.80,1138.75 1145.81,1144.30 1147.82,1150.00 1149.82,1155.84 1151.83,1161.79 1153.84,1167.86 1155.85,1174.02 1157.85,1180.27 1159.86,1186.59 1161.87,1192.97 1163.87,1199.39 1165.88,1205.85 1167.89,1212.33 1169.89,1218.82 1171.90,1225.31 1173.91,1231.79 1175.91,1238.24 1177.92,1244.67 1179.93,1251.05 1181.94,1257.38 1183.94,1263.65 1185.95,1269.85 1187.96,1275.97 1189.96,1282.01 1191.97,1287.95 1193.98,1293.80 1195.98,1299.54 1197.99,1305.17 1200.00,1310.69 1202.00,1316.09 1204.01,1321.36 1206.02,1326.50 1208.03,1331.52 1210.03,1336.40 1212.04,1341.14 1214.05,1345.75 1216.05,1350.22 1218.06,1354.54 1220.07,1358.73 1222.07,1362.78 1224.08,1366.69 1226.09,1370.46 1228.09,1374.09 1230.10,1377.58 1232.11,1380.94 1234.12,1384.16 1236.12,1387.25 1238.13,1390.21 1240.14,1393.04 1242.14,1395.75 1244.15,1398.34 1246.16,1400.80 1248.16,1403.15 1250.17,1405.39 1252.18,1407.52 1254.18,1409.53 1256.19,1411.45 1258.20,1413.27 1260.21,1414.99 1262.21,1416.61 1264.22,1418.15 1266.23,1419.60 1268.23,1420.97 1270.24,1422.26 1272.25,1423.48 1274.25,1424.62 1276.26,1425.69 1278.27,1426.69 1280.27,1427.64 1282.28,1428.52 1284.29,1429.34 1286.30,1430.12 1288.30,1430.84 1290.31,1431.51 1292.32,1432.13 1294.32,1432.72 1296.33,1433.26 1298.34,1433.76 1300.34,1434.23 1302.35,1434.67 1304.36,1435.07 1306.36,1435.44 1308.37,1435.78 1310.38,1436.10 1312.39,1436.39 1314.39,1436.67 1316.40,1436.91 1318.41,1437.14 1320.41,1437.35 1322.42,1437.55 1324.43,1437.73 1326.43,1437.89 1328.44,1438.04 1330.45,1438.17 1332.45,1438.30 1334.46,1438.41 1336.47,1438.52 1338.48,1438.61 1340.48,1438.70 1342.49,1438.78 1344.50,1438.85 1346.50,1438.91 1348.51,1438.97 1350.52,1439.03 1352.52,1439.07 1354.53,1439.12 1356.54,1439.16 1358.54,1439.19 1360.55,1439.23 1362.56,1439.25 1364.57,1439.28 1366.57,1439.30 1368.58,1439.33 1370.59,1439.34 1372.59,1439.36 1374.60,1439.38" fill="none" stroke="#0c0c0c" stroke-width="1.5" stroke-linejoin="round"/>
<path d="M852.80,1439.50 V913.70 H1374.60 V1439.50" fill="none" stroke="#111" stroke-width="1.6"/>
<line x1="844.10" y1="1439.50" x2="1375.40" y2="1439.50" stroke="#111" stroke-width="1.9"/>
<text transform="translate(834.61,1447.30) scale(0.9206,1)" font-size="15.30" font-weight="normal" stroke="#000" stroke-width="0.3">0</text>
<line x1="844.10" y1="1339.50" x2="852.80" y2="1339.50" stroke="#111" stroke-width="1.8"/>
<text transform="translate(834.65,1347.30) scale(0.9206,1)" font-size="15.30" font-weight="normal" stroke="#000" stroke-width="0.3">5</text>
<line x1="844.10" y1="1239.50" x2="852.80" y2="1239.50" stroke="#111" stroke-width="1.8"/>
<text transform="translate(826.80,1247.30) scale(0.9206,1)" font-size="15.30" font-weight="normal" stroke="#000" stroke-width="0.3">10</text>
<line x1="844.10" y1="1139.50" x2="852.80" y2="1139.50" stroke="#111" stroke-width="1.8"/>
<text transform="translate(826.83,1147.30) scale(0.9206,1)" font-size="15.30" font-weight="normal" stroke="#000" stroke-width="0.3">15</text>
<line x1="844.10" y1="1039.50" x2="852.80" y2="1039.50" stroke="#111" stroke-width="1.8"/>
<text transform="translate(826.80,1047.30) scale(0.9206,1)" font-size="15.30" font-weight="normal" stroke="#000" stroke-width="0.3">20</text>
<line x1="844.10" y1="939.50" x2="852.80" y2="939.50" stroke="#111" stroke-width="1.8"/>
<text transform="translate(826.83,947.30) scale(0.9206,1)" font-size="15.30" font-weight="normal" stroke="#000" stroke-width="0.3">25</text>
<line x1="878.10" y1="1439.50" x2="878.10" y2="1449.90" stroke="#111" stroke-width="1.8"/>
<text transform="translate(864.19,1465.60) scale(0.8303,1)" font-size="16.49" font-weight="normal" stroke="#000" stroke-width="0.3">3.50</text>
<line x1="971.95" y1="1439.50" x2="971.95" y2="1449.90" stroke="#111" stroke-width="1.8"/>
<text transform="translate(958.14,1465.60) scale(0.8303,1)" font-size="16.49" font-weight="normal" stroke="#000" stroke-width="0.3">4.00</text>
<line x1="1065.80" y1="1439.50" x2="1065.80" y2="1449.90" stroke="#111" stroke-width="1.8"/>
<text transform="translate(1051.99,1465.60) scale(0.8303,1)" font-size="16.49" font-weight="normal" stroke="#000" stroke-width="0.3">4.50</text>
<line x1="1159.65" y1="1439.50" x2="1159.65" y2="1449.90" stroke="#111" stroke-width="1.8"/>
<text transform="translate(1145.72,1465.60) scale(0.8303,1)" font-size="16.49" font-weight="normal" stroke="#000" stroke-width="0.3">5.00</text>
<line x1="1253.50" y1="1439.50" x2="1253.50" y2="1449.90" stroke="#111" stroke-width="1.8"/>
<text transform="translate(1239.57,1465.60) scale(0.8303,1)" font-size="16.49" font-weight="normal" stroke="#000" stroke-width="0.3">5.50</text>
<line x1="1347.35" y1="1439.50" x2="1347.35" y2="1449.90" stroke="#111" stroke-width="1.8"/>
<text transform="translate(1333.35,1465.60) scale(0.8303,1)" font-size="16.49" font-weight="normal" stroke="#000" stroke-width="0.3">6.00</text>
<text transform="translate(1130.93,867.30) scale(0.8863,1)" font-size="23.71" font-weight="bold" stroke="#fff" stroke-width="0.18">RBCMµL</text>
<text transform="translate(1126.11,903.90) scale(0.8987,1)" font-size="19.71" font-weight="bold">Sex: female</text>
<text transform="translate(1071.94,1499.50) scale(0.9381,1)" font-size="20.65" font-weight="bold">RBCMµL</text>
<text transform="translate(813.10,1229.14) rotate(-90) scale(0.9484,1)" font-size="21.82" font-weight="bold" stroke="#000" stroke-width="0.15">Frequency</text>
<text transform="translate(1381.09,955.50) scale(0.9707,1)" font-size="14.23" font-weight="normal" stroke="#000" stroke-width="0.3">Mean = 4.69</text>
<text transform="translate(1381.58,971.00) scale(0.9707,1)" font-size="14.23" font-weight="normal" stroke="#000" stroke-width="0.3">Std. Dev. = .364</text>
<text transform="translate(1381.09,986.20) scale(0.9707,1)" font-size="14.23" font-weight="normal" stroke="#000" stroke-width="0.3">N = 133</text>
</g>
<g id="c5">
<rect x="60.30" y="1686.80" width="520.00" height="537.00" fill="#F0F0F0"/>
<rect x="106.22" y="2198.28" width="23.47" height="25.52" fill="#D3CE97" stroke="#1c1c14" stroke-width="1.3"/>
<rect x="129.69" y="2096.20" width="23.47" height="127.60" fill="#D3CE97" stroke="#1c1c14" stroke-width="1.3"/>
<rect x="153.16" y="2019.64" width="23.47" height="204.16" fill="#D3CE97" stroke="#1c1c14" stroke-width="1.3"/>
<rect x="176.63" y="1968.60" width="23.47" height="255.20" fill="#D3CE97" stroke="#1c1c14" stroke-width="1.3"/>
<rect x="200.10" y="1943.08" width="23.47" height="280.72" fill="#D3CE97" stroke="#1c1c14" stroke-width="1.3"/>
<rect x="223.57" y="2096.20" width="23.47" height="127.60" fill="#D3CE97" stroke="#1c1c14" stroke-width="1.3"/>
<rect x="247.05" y="1738.92" width="23.47" height="484.88" fill="#D3CE97" stroke="#1c1c14" stroke-width="1.3"/>
<rect x="270.52" y="1815.48" width="23.47" height="408.32" fill="#D3CE97" stroke="#1c1c14" stroke-width="1.3"/>
<rect x="293.99" y="1917.56" width="23.47" height="306.24" fill="#D3CE97" stroke="#1c1c14" stroke-width="1.3"/>
<rect x="317.46" y="1841.00" width="23.47" height="382.80" fill="#D3CE97" stroke="#1c1c14" stroke-width="1.3"/>
<rect x="340.93" y="1994.12" width="23.47" height="229.68" fill="#D3CE97" stroke="#1c1c14" stroke-width="1.3"/>
<rect x="364.40" y="2019.64" width="23.47" height="204.16" fill="#D3CE97" stroke="#1c1c14" stroke-width="1.3"/>
<rect x="387.87" y="2096.20" width="23.47" height="127.60" fill="#D3CE97" stroke="#1c1c14" stroke-width="1.3"/>
<rect x="411.35" y="2096.20" width="23.47" height="127.60" fill="#D3CE97" stroke="#1c1c14" stroke-width="1.3"/>
<rect x="434.82" y="2147.24" width="23.47" height="76.56" fill="#D3CE97" stroke="#1c1c14" stroke-width="1.3"/>
<rect x="458.29" y="2198.28" width="23.47" height="25.52" fill="#D3CE97" stroke="#1c1c14" stroke-width="1.3"/>
<line x1="175.98" y1="1969.10" x2="200.75" y2="1969.10" stroke="#15150f" stroke-width="2.4"/>
<line x1="199.45" y1="1943.58" x2="224.22" y2="1943.58" stroke="#15150f" stroke-width="2.4"/>
<line x1="293.34" y1="1918.06" x2="318.11" y2="1918.06" stroke="#15150f" stroke-width="2.4"/>
<line x1="340.28" y1="1994.62" x2="365.05" y2="1994.62" stroke="#15150f" stroke-width="2.4"/>
<polyline points="60.30,2215.69 62.30,2215.10 64.30,2214.48 66.30,2213.82 68.30,2213.13 70.30,2212.39 72.30,2211.61 74.30,2210.78 76.30,2209.90 78.30,2208.98 80.30,2208.00 82.30,2206.97 84.30,2205.88 86.30,2204.73 88.30,2203.53 90.30,2202.26 92.30,2200.93 94.30,2199.52 96.30,2198.05 98.30,2196.51 100.30,2194.89 102.30,2193.20 104.30,2191.42 106.30,2189.57 108.30,2187.63 110.30,2185.61 112.30,2183.49 114.30,2181.29 116.30,2179.00 118.30,2176.61 120.30,2174.12 122.30,2171.54 124.30,2168.86 126.30,2166.07 128.30,2163.18 130.30,2160.19 132.30,2157.09 134.30,2153.88 136.30,2150.57 138.30,2147.14 140.30,2143.61 142.30,2139.97 144.30,2136.21 146.30,2132.34 148.30,2128.37 150.30,2124.28 152.30,2120.08 154.30,2115.77 156.30,2111.36 158.30,2106.84 160.30,2102.21 162.30,2097.47 164.30,2092.64 166.30,2087.70 168.30,2082.67 170.30,2077.54 172.30,2072.33 174.30,2067.02 176.30,2061.63 178.30,2056.16 180.30,2050.61 182.30,2044.99 184.30,2039.30 186.30,2033.55 188.30,2027.75 190.30,2021.90 192.30,2016.00 194.30,2010.06 196.30,2004.09 198.30,1998.09 200.30,1992.08 202.30,1986.05 204.30,1980.02 206.30,1973.99 208.30,1967.98 210.30,1961.98 212.30,1956.01 214.30,1950.08 216.30,1944.18 218.30,1938.35 220.30,1932.57 222.30,1926.86 224.30,1921.22 226.30,1915.68 228.30,1910.22 230.30,1904.88 232.30,1899.64 234.30,1894.52 236.30,1889.53 238.30,1884.68 240.30,1879.97 242.30,1875.42 244.30,1871.02 246.30,1866.80 248.30,1862.75 250.30,1858.88 252.30,1855.20 254.30,1851.72 256.30,1848.44 258.30,1845.36 260.30,1842.50 262.30,1839.86 264.30,1837.44 266.30,1835.25 268.30,1833.30 270.30,1831.57 272.30,1830.09 274.30,1828.85 276.30,1827.85 278.30,1827.10 280.30,1826.60 282.30,1826.34 284.30,1826.33 286.30,1826.57 288.30,1827.06 290.30,1827.80 292.30,1828.78 294.30,1830.00 296.30,1831.47 298.30,1833.18 300.30,1835.12 302.30,1837.30 304.30,1839.70 306.30,1842.33 308.30,1845.17 310.30,1848.23 312.30,1851.50 314.30,1854.97 316.30,1858.64 318.30,1862.49 320.30,1866.53 322.30,1870.75 324.30,1875.13 326.30,1879.67 328.30,1884.37 330.30,1889.21 332.30,1894.19 334.30,1899.30 336.30,1904.53 338.30,1909.87 340.30,1915.32 342.30,1920.86 344.30,1926.49 346.30,1932.19 348.30,1937.97 350.30,1943.80 352.30,1949.69 354.30,1955.62 356.30,1961.59 358.30,1967.59 360.30,1973.60 362.30,1979.63 364.30,1985.66 366.30,1991.69 368.30,1997.70 370.30,2003.70 372.30,2009.67 374.30,2015.61 376.30,2021.51 378.30,2027.37 380.30,2033.18 382.30,2038.93 384.30,2044.62 386.30,2050.25 388.30,2055.80 390.30,2061.28 392.30,2066.67 394.30,2071.98 396.30,2077.21 398.30,2082.34 400.30,2087.38 402.30,2092.32 404.30,2097.16 406.30,2101.90 408.30,2106.54 410.30,2111.07 412.30,2115.49 414.30,2119.81 416.30,2124.01 418.30,2128.11 420.30,2132.09 422.30,2135.96 424.30,2139.73 426.30,2143.38 428.30,2146.92 430.30,2150.35 432.30,2153.67 434.30,2156.89 436.30,2159.99 438.30,2162.99 440.30,2165.89 442.30,2168.68 444.30,2171.37 446.30,2173.96 448.30,2176.45 450.30,2178.85 452.30,2181.15 454.30,2183.35 456.30,2185.47 458.30,2187.50 460.30,2189.45 462.30,2191.31 464.30,2193.09 466.30,2194.78 468.30,2196.41 470.30,2197.96 472.30,2199.43 474.30,2200.84 476.30,2202.17 478.30,2203.45 480.30,2204.66 482.30,2205.81 484.30,2206.90 486.30,2207.93 488.30,2208.91 490.30,2209.84 492.30,2210.72 494.30,2211.55 496.30,2212.34 498.30,2213.08 500.30,2213.78 502.30,2214.44 504.30,2215.06 506.30,2215.65 508.30,2216.20 510.30,2216.72 512.30,2217.21 514.30,2217.66 516.30,2218.09 518.30,2218.50 520.30,2218.87 522.30,2219.23 524.30,2219.56 526.30,2219.87 528.30,2220.16 530.30,2220.43 532.30,2220.68 534.30,2220.91 536.30,2221.13 538.30,2221.34 540.30,2221.52 542.30,2221.70 544.30,2221.87 546.30,2222.02 548.30,2222.16 550.30,2222.29 552.30,2222.41 554.30,2222.52 556.30,2222.63 558.30,2222.72 560.30,2222.81 562.30,2222.90 564.30,2222.97 566.30,2223.04 568.30,2223.11 570.30,2223.16 572.30,2223.22 574.30,2223.27 576.30,2223.32 578.30,2223.36 580.30,2223.40" fill="none" stroke="#0c0c0c" stroke-width="1.5" stroke-linejoin="round"/>
<path d="M60.30,2223.80 V1686.80 H580.30 V2223.80" fill="none" stroke="#111" stroke-width="1.6"/>
<line x1="51.60" y1="2223.80" x2="581.10" y2="2223.80" stroke="#111" stroke-width="1.9"/>
<text transform="translate(42.07,2231.95) scale(0.9349,1)" font-size="15.16" font-weight="normal" stroke="#000" stroke-width="0.3">0</text>
<line x1="51.60" y1="2096.20" x2="60.30" y2="2096.20" stroke="#111" stroke-width="1.8"/>
<text transform="translate(42.10,2104.35) scale(0.9349,1)" font-size="15.16" font-weight="normal" stroke="#000" stroke-width="0.3">5</text>
<line x1="51.60" y1="1968.60" x2="60.30" y2="1968.60" stroke="#111" stroke-width="1.8"/>
<text transform="translate(34.20,1976.75) scale(0.9349,1)" font-size="15.16" font-weight="normal" stroke="#000" stroke-width="0.3">10</text>
<line x1="51.60" y1="1841.00" x2="60.30" y2="1841.00" stroke="#111" stroke-width="1.8"/>
<text transform="translate(34.24,1849.15) scale(0.9349,1)" font-size="15.16" font-weight="normal" stroke="#000" stroke-width="0.3">15</text>
<line x1="51.60" y1="1713.40" x2="60.30" y2="1713.40" stroke="#111" stroke-width="1.8"/>
<text transform="translate(34.20,1721.55) scale(0.9349,1)" font-size="15.16" font-weight="normal" stroke="#000" stroke-width="0.3">20</text>
<line x1="85.70" y1="2223.80" x2="85.70" y2="2233.80" stroke="#111" stroke-width="1.8"/>
<text transform="translate(71.72,2249.20) scale(0.9171,1)" font-size="14.91" font-weight="normal" stroke="#000" stroke-width="0.3">2.00</text>
<line x1="179.38" y1="2223.80" x2="179.38" y2="2233.80" stroke="#111" stroke-width="1.8"/>
<text transform="translate(165.58,2249.20) scale(0.9171,1)" font-size="14.91" font-weight="normal" stroke="#000" stroke-width="0.3">4.00</text>
<line x1="273.06" y1="2223.80" x2="273.06" y2="2233.80" stroke="#111" stroke-width="1.8"/>
<text transform="translate(259.08,2249.20) scale(0.9171,1)" font-size="14.91" font-weight="normal" stroke="#000" stroke-width="0.3">6.00</text>
<line x1="366.74" y1="2223.80" x2="366.74" y2="2233.80" stroke="#111" stroke-width="1.8"/>
<text transform="translate(352.81,2249.20) scale(0.9171,1)" font-size="14.91" font-weight="normal" stroke="#000" stroke-width="0.3">8.00</text>
<line x1="460.42" y1="2223.80" x2="460.42" y2="2233.80" stroke="#111" stroke-width="1.8"/>
<text transform="translate(442.45,2249.20) scale(0.9171,1)" font-size="14.91" font-weight="normal" stroke="#000" stroke-width="0.3">10.00</text>
<line x1="554.10" y1="2223.80" x2="554.10" y2="2233.80" stroke="#111" stroke-width="1.8"/>
<text transform="translate(536.13,2249.20) scale(0.9171,1)" font-size="14.91" font-weight="normal" stroke="#000" stroke-width="0.3">12.00</text>
<text transform="translate(338.80,1639.80) scale(0.8633,1)" font-size="23.71" font-weight="bold" stroke="#fff" stroke-width="0.18">WBCKµL</text>
<text transform="translate(341.12,1678.20) scale(0.8584,1)" font-size="20.43" font-weight="bold">Sex: male</text>
<text transform="translate(280.40,2284.00) scale(0.8935,1)" font-size="20.65" font-weight="bold">WBCKµL</text>
<text transform="translate(20.30,2009.17) rotate(-90) scale(1.0070,1)" font-size="20.95" font-weight="bold" stroke="#000" stroke-width="0.15">Frequency</text>
<text transform="translate(587.60,1729.80) scale(0.9686,1)" font-size="14.23" font-weight="normal" stroke="#000" stroke-width="0.3">Mean = 6.22</text>
<text transform="translate(588.08,1745.90) scale(0.9686,1)" font-size="14.23" font-weight="normal" stroke="#000" stroke-width="0.3">Std. Dev. = 1.707</text>
<text transform="translate(587.60,1761.40) scale(0.9686,1)" font-size="14.23" font-weight="normal" stroke="#000" stroke-width="0.3">N = 133</text>
</g>
<g id="c6">
<rect x="857.80" y="1686.80" width="544.70" height="535.50" fill="#F0F0F0"/>
<rect x="930.31" y="2120.62" width="30.61" height="101.68" fill="#D3CE97" stroke="#1c1c14" stroke-width="1.3"/>
<rect x="960.92" y="1993.52" width="30.61" height="228.78" fill="#D3CE97" stroke="#1c1c14" stroke-width="1.3"/>
<rect x="991.53" y="1942.68" width="30.61" height="279.62" fill="#D3CE97" stroke="#1c1c14" stroke-width="1.3"/>
<rect x="1022.14" y="1866.42" width="30.61" height="355.88" fill="#D3CE97" stroke="#1c1c14" stroke-width="1.3"/>
<rect x="1052.75" y="1841.00" width="30.61" height="381.30" fill="#D3CE97" stroke="#1c1c14" stroke-width="1.3"/>
<rect x="1083.37" y="1790.16" width="30.61" height="432.14" fill="#D3CE97" stroke="#1c1c14" stroke-width="1.3"/>
<rect x="1113.97" y="1841.00" width="30.61" height="381.30" fill="#D3CE97" stroke="#1c1c14" stroke-width="1.3"/>
<rect x="1144.59" y="1841.00" width="30.61" height="381.30" fill="#D3CE97" stroke="#1c1c14" stroke-width="1.3"/>
<rect x="1175.19" y="1993.52" width="30.61" height="228.78" fill="#D3CE97" stroke="#1c1c14" stroke-width="1.3"/>
<rect x="1205.80" y="1891.84" width="30.61" height="330.46" fill="#D3CE97" stroke="#1c1c14" stroke-width="1.3"/>
<rect x="1236.41" y="2069.78" width="30.61" height="152.52" fill="#D3CE97" stroke="#1c1c14" stroke-width="1.3"/>
<rect x="1267.03" y="2120.62" width="30.61" height="101.68" fill="#D3CE97" stroke="#1c1c14" stroke-width="1.3"/>
<rect x="1297.63" y="2196.88" width="30.61" height="25.42" fill="#D3CE97" stroke="#1c1c14" stroke-width="1.3"/>
<polyline points="857.80,2215.41 859.89,2214.91 861.99,2214.38 864.08,2213.83 866.18,2213.23 868.27,2212.60 870.37,2211.94 872.46,2211.23 874.56,2210.49 876.65,2209.70 878.75,2208.86 880.84,2207.98 882.94,2207.05 885.03,2206.06 887.13,2205.03 889.22,2203.93 891.32,2202.78 893.41,2201.57 895.51,2200.30 897.61,2198.96 899.70,2197.56 901.79,2196.09 903.89,2194.54 905.98,2192.92 908.08,2191.22 910.17,2189.45 912.27,2187.59 914.37,2185.65 916.46,2183.62 918.55,2181.50 920.65,2179.30 922.75,2177.00 924.84,2174.60 926.93,2172.10 929.03,2169.51 931.12,2166.81 933.22,2164.01 935.31,2161.10 937.41,2158.08 939.50,2154.96 941.60,2151.72 943.69,2148.37 945.79,2144.90 947.88,2141.32 949.98,2137.62 952.07,2133.80 954.17,2129.86 956.26,2125.80 958.36,2121.63 960.45,2117.33 962.55,2112.91 964.64,2108.37 966.74,2103.71 968.83,2098.93 970.93,2094.03 973.02,2089.01 975.12,2083.88 977.21,2078.63 979.31,2073.27 981.40,2067.79 983.50,2062.21 985.60,2056.52 987.69,2050.73 989.78,2044.83 991.88,2038.84 993.97,2032.75 996.07,2026.58 998.16,2020.32 1000.26,2013.98 1002.36,2007.56 1004.45,2001.07 1006.54,1994.52 1008.64,1987.91 1010.74,1981.24 1012.83,1974.53 1014.92,1967.77 1017.02,1960.98 1019.12,1954.16 1021.21,1947.33 1023.30,1940.48 1025.40,1933.62 1027.49,1926.77 1029.59,1919.93 1031.68,1913.11 1033.78,1906.32 1035.88,1899.56 1037.97,1892.84 1040.07,1886.18 1042.16,1879.58 1044.25,1873.06 1046.35,1866.61 1048.44,1860.25 1050.54,1853.99 1052.63,1847.83 1054.73,1841.79 1056.83,1835.87 1058.92,1830.09 1061.01,1824.45 1063.11,1818.96 1065.20,1813.63 1067.30,1808.46 1069.39,1803.47 1071.49,1798.66 1073.59,1794.04 1075.68,1789.63 1077.78,1785.41 1079.87,1781.41 1081.96,1777.62 1084.06,1774.06 1086.15,1770.74 1088.25,1767.64 1090.35,1764.79 1092.44,1762.19 1094.53,1759.83 1096.63,1757.73 1098.72,1755.89 1100.82,1754.31 1102.91,1752.99 1105.01,1751.94 1107.11,1751.15 1109.20,1750.64 1111.30,1750.39 1113.39,1750.42 1115.48,1750.72 1117.58,1751.28 1119.67,1752.12 1121.77,1753.22 1123.87,1754.59 1125.96,1756.23 1128.05,1758.12 1130.15,1760.27 1132.24,1762.67 1134.34,1765.33 1136.43,1768.23 1138.53,1771.37 1140.62,1774.74 1142.72,1778.34 1144.82,1782.17 1146.91,1786.22 1149.00,1790.47 1151.10,1794.93 1153.19,1799.58 1155.29,1804.43 1157.38,1809.45 1159.48,1814.65 1161.57,1820.02 1163.67,1825.54 1165.76,1831.21 1167.86,1837.02 1169.95,1842.96 1172.05,1849.02 1174.14,1855.20 1176.24,1861.48 1178.34,1867.86 1180.43,1874.32 1182.53,1880.86 1184.62,1887.48 1186.71,1894.15 1188.81,1900.87 1190.90,1907.64 1193.00,1914.44 1195.10,1921.26 1197.19,1928.11 1199.28,1934.96 1201.38,1941.81 1203.47,1948.66 1205.57,1955.49 1207.66,1962.31 1209.76,1969.09 1211.86,1975.84 1213.95,1982.54 1216.05,1989.20 1218.14,1995.80 1220.23,2002.34 1222.33,2008.82 1224.42,2015.22 1226.52,2021.54 1228.62,2027.79 1230.71,2033.95 1232.80,2040.01 1234.90,2045.99 1236.99,2051.86 1239.09,2057.64 1241.18,2063.31 1243.28,2068.87 1245.38,2074.32 1247.47,2079.66 1249.57,2084.89 1251.66,2090.00 1253.75,2094.99 1255.85,2099.87 1257.94,2104.63 1260.04,2109.26 1262.13,2113.78 1264.23,2118.17 1266.33,2122.45 1268.42,2126.60 1270.51,2130.64 1272.61,2134.55 1274.70,2138.35 1276.80,2142.02 1278.89,2145.58 1280.99,2149.03 1283.09,2152.36 1285.18,2155.57 1287.28,2158.68 1289.37,2161.67 1291.46,2164.56 1293.56,2167.34 1295.65,2170.02 1297.75,2172.60 1299.85,2175.07 1301.94,2177.45 1304.03,2179.73 1306.13,2181.92 1308.22,2184.02 1310.32,2186.03 1312.41,2187.96 1314.51,2189.80 1316.61,2191.56 1318.70,2193.24 1320.80,2194.85 1322.89,2196.38 1324.98,2197.84 1327.08,2199.23 1329.17,2200.55 1331.27,2201.81 1333.37,2203.01 1335.46,2204.15 1337.56,2205.23 1339.65,2206.26 1341.74,2207.23 1343.84,2208.15 1345.93,2209.03 1348.03,2209.85 1350.12,2210.63 1352.22,2211.37 1354.32,2212.07 1356.41,2212.73 1358.51,2213.35 1360.60,2213.94 1362.69,2214.49 1364.79,2215.01 1366.88,2215.50 1368.98,2215.96 1371.07,2216.39 1373.17,2216.80 1375.27,2217.18 1377.36,2217.54 1379.45,2217.87 1381.55,2218.18 1383.64,2218.48 1385.74,2218.75 1387.84,2219.01 1389.93,2219.25 1392.03,2219.47 1394.12,2219.68 1396.22,2219.88 1398.31,2220.06 1400.40,2220.23 1402.50,2220.39" fill="none" stroke="#0c0c0c" stroke-width="1.5" stroke-linejoin="round"/>
<path d="M857.80,2222.30 V1686.80 H1402.50 V2222.30" fill="none" stroke="#111" stroke-width="1.6"/>
<line x1="848.20" y1="2222.30" x2="1403.30" y2="2222.30" stroke="#111" stroke-width="1.9"/>
<text transform="translate(838.40,2229.80) scale(1.0227,1)" font-size="14.74" font-weight="normal" stroke="#000" stroke-width="0.3">0</text>
<line x1="848.20" y1="2095.20" x2="857.80" y2="2095.20" stroke="#111" stroke-width="1.8"/>
<text transform="translate(838.44,2102.70) scale(1.0227,1)" font-size="14.74" font-weight="normal" stroke="#000" stroke-width="0.3">5</text>
<line x1="848.20" y1="1968.10" x2="857.80" y2="1968.10" stroke="#111" stroke-width="1.8"/>
<text transform="translate(830.03,1975.60) scale(1.0227,1)" font-size="14.74" font-weight="normal" stroke="#000" stroke-width="0.3">10</text>
<line x1="848.20" y1="1841.00" x2="857.80" y2="1841.00" stroke="#111" stroke-width="1.8"/>
<text transform="translate(830.07,1848.50) scale(1.0227,1)" font-size="14.74" font-weight="normal" stroke="#000" stroke-width="0.3">15</text>
<line x1="848.20" y1="1713.90" x2="857.80" y2="1713.90" stroke="#111" stroke-width="1.8"/>
<text transform="translate(830.03,1721.40) scale(1.0227,1)" font-size="14.74" font-weight="normal" stroke="#000" stroke-width="0.3">20</text>
<line x1="884.40" y1="2222.30" x2="884.40" y2="2231.90" stroke="#111" stroke-width="1.8"/>
<text transform="translate(869.68,2247.30) scale(0.9676,1)" font-size="14.91" font-weight="normal" stroke="#000" stroke-width="0.3">2.00</text>
<line x1="1006.84" y1="2222.30" x2="1006.84" y2="2231.90" stroke="#111" stroke-width="1.8"/>
<text transform="translate(992.32,2247.30) scale(0.9676,1)" font-size="14.91" font-weight="normal" stroke="#000" stroke-width="0.3">4.00</text>
<line x1="1129.28" y1="2222.30" x2="1129.28" y2="2231.90" stroke="#111" stroke-width="1.8"/>
<text transform="translate(1114.56,2247.30) scale(0.9676,1)" font-size="14.91" font-weight="normal" stroke="#000" stroke-width="0.3">6.00</text>
<line x1="1251.72" y1="2222.30" x2="1251.72" y2="2231.90" stroke="#111" stroke-width="1.8"/>
<text transform="translate(1237.05,2247.30) scale(0.9676,1)" font-size="14.91" font-weight="normal" stroke="#000" stroke-width="0.3">8.00</text>
<line x1="1374.16" y1="2222.30" x2="1374.16" y2="2231.90" stroke="#111" stroke-width="1.8"/>
<text transform="translate(1355.24,2247.30) scale(0.9676,1)" font-size="14.91" font-weight="normal" stroke="#000" stroke-width="0.3">10.00</text>
<text transform="translate(1149.50,1639.80) scale(0.8910,1)" font-size="23.71" font-weight="bold" stroke="#fff" stroke-width="0.18">WBCKµL</text>
<text transform="translate(1144.10,1678.20) scale(0.8851,1)" font-size="20.43" font-weight="bold">Sex: female</text>
<text transform="translate(1088.20,2281.80) scale(0.9366,1)" font-size="20.65" font-weight="bold">WBCKµL</text>
<text transform="translate(815.90,2008.57) rotate(-90) scale(0.9798,1)" font-size="21.53" font-weight="bold" stroke="#000" stroke-width="0.15">Frequency</text>
<text transform="translate(1409.14,1729.80) scale(1.0210,1)" font-size="14.23" font-weight="normal" stroke="#000" stroke-width="0.3">Mean = 5.72</text>
<text transform="translate(1409.65,1745.90) scale(1.0210,1)" font-size="14.23" font-weight="normal" stroke="#000" stroke-width="0.3">Std. Dev. = 1.429</text>
<text transform="translate(1409.14,1761.40) scale(1.0210,1)" font-size="14.23" font-weight="normal" stroke="#000" stroke-width="0.3">N = 133</text>
</g>
</svg>
</body></html>
